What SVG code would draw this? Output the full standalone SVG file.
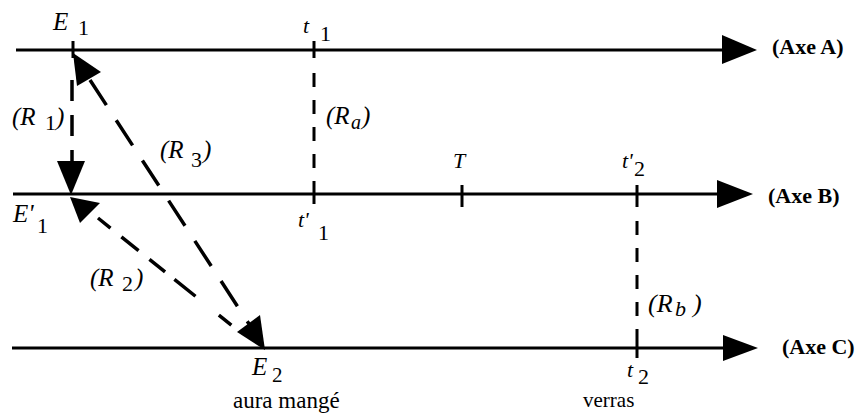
<svg xmlns="http://www.w3.org/2000/svg" width="862" height="417" viewBox="0 0 862 417" font-family="'Liberation Serif', 'Times New Roman', 'DejaVu Serif', serif">
<style>
.ax{stroke:#000;stroke-width:3;fill:none}
.tk{stroke:#000;stroke-width:3}
.dv{stroke:#000;stroke-width:3;stroke-dasharray:14 13;fill:none}
.dd{stroke:#000;stroke-width:3.5;fill:none}
.ah{fill:#000}
text{fill:#000}
.i{font-style:italic;font-size:25px}
.s{font-size:22px}
.lab{font-weight:bold;font-size:22px}
</style>
<rect width="862" height="417" fill="#fff"/>
<g id="axis-a">
<line class="ax" x1="16" y1="50" x2="724" y2="50"/>
<polygon class="ah" points="722,35 757,50 722,64"/>
<text class="lab" x="772" y="54">(Axe A)</text>
</g>
<g id="axis-b">
<line class="ax" x1="13" y1="194" x2="719" y2="194"/>
<polygon class="ah" points="717,180 753,194 717,208"/>
<text class="lab" x="768" y="203">(Axe B)</text>
</g>
<g id="axis-c">
<line class="ax" x1="12" y1="348" x2="725" y2="348"/>
<polygon class="ah" points="723,335 758,348 723,361"/>
<text class="lab" x="782" y="354">(Axe C)</text>
</g>
<g id="E1">
<line class="tk" x1="73" y1="41" x2="73" y2="58"/>
<text class="i" x="53" y="30">E</text><text class="s" x="78" y="35">1</text>
</g>
<g id="E1prime">
<text class="i" x="13" y="222">E'</text><text class="s" x="37" y="233">1</text>
</g>
<g id="E2">
<text class="i" x="252" y="375">E</text><text class="s" x="272" y="382" style="font-size:21px">2</text>
<text style="font-size:23px" x="233" y="408">aura mangé</text>
</g>
<g id="t1">
<line class="tk" x1="314" y1="41" x2="314" y2="58"/>
<text class="i" x="303" y="33" style="font-size:22px">t</text><text class="s" x="320" y="41">1</text>
</g>
<g id="t1prime">
<line class="tk" x1="314" y1="184" x2="314" y2="204"/>
<text class="i" x="298" y="227" style="font-size:22px">t'</text><text class="s" x="318" y="240">1</text>
</g>
<g id="T">
<line class="tk" x1="462" y1="185" x2="462" y2="207"/>
<text class="i" x="453" y="168" style="font-size:22px">T</text>
</g>
<g id="t2prime">
<line class="tk" x1="637" y1="185" x2="637" y2="207"/>
<text class="i" x="622" y="168" style="font-size:22px">t'</text><text class="s" x="634" y="176">2</text>
</g>
<g id="t2">
<line class="tk" x1="637" y1="338" x2="637" y2="358"/>
<text class="i" x="627" y="377" style="font-size:22px">t</text><text class="s" x="638" y="384">2</text>
<text style="font-size:21px" x="583" y="407">verras</text>
</g>
<g id="connectors">
<g id="R1">
<line class="dd" x1="72" y1="80" x2="72" y2="163" style="stroke-dasharray:21 14"/>
<polygon class="ah" points="57,161 85,161 71,195"/>
<text class="i" x="12" y="125">(R</text><text class="s" x="45" y="130">1</text><text class="i" x="56" y="125">)</text>
</g>
<g id="R3">
<line class="dd" x1="90" y1="80" x2="249" y2="324" style="stroke-dasharray:30 18"/>
<polygon class="ah" points="73,53 101,72 77,86"/>
<polygon class="ah" points="265,350 237,332 260,315"/>
<text class="i" x="160" y="158">(R</text><text class="s" x="191" y="167">3</text><text class="i" x="203" y="158">)</text>
</g>
<g id="R2">
<line class="dd" x1="98" y1="218" x2="240" y2="332" style="stroke-dasharray:16 14 22 14 20 12 27 30"/>
<polygon class="ah" points="70,197 100,203 80,223"/>
<text class="i" x="90" y="286">(R</text><text class="s" x="122" y="291">2</text><text class="i" x="135" y="286">)</text>
</g>
<g id="Ra">
<line class="dv" x1="314" y1="73" x2="314" y2="184"/>
<text class="i" x="326" y="124">(R</text><text class="i" x="351" y="129" style="font-size:20px">a</text><text class="i" x="362" y="124">)</text>
</g>
<g id="Rb">
<line class="dv" x1="637" y1="221" x2="637" y2="338"/>
<text class="i" x="648" y="312" style="font-size:26px">(R</text><text class="i" x="675" y="316" style="font-size:22px">b</text><text class="i" x="693" y="312" style="font-size:26px">)</text>
</g>
</g>
</svg>
